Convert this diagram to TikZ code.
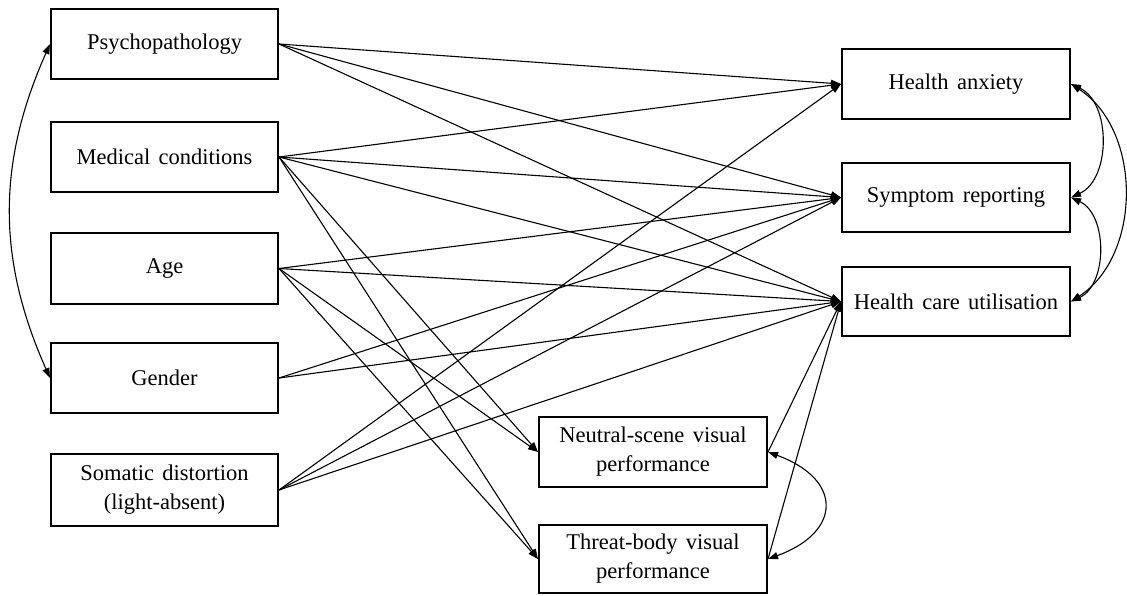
\documentclass[tikz,border=0pt]{standalone}
\usepackage{fontspec}
\setmainfont{LiberationSerif}[Extension=.ttf, UprightFont=*-Regular, BoldFont=*-Bold, WordSpace=1.5]
\usetikzlibrary{arrows.meta}
\begin{document}
\begin{tikzpicture}[x=1pt,y=-1pt,
  box/.style={draw, line width=2pt, minimum height=70pt, minimum width=227pt,
    align=center, font=\rmfamily\fontsize{22.5}{29}\selectfont, inner sep=2pt},
  path/.style={line width=1.1pt, -{Triangle[length=10pt,width=7pt]}},
  cov/.style={line width=1.1pt, {Triangle[length=10pt,width=7pt]}-{Triangle[length=10pt,width=7pt]}}]
\useasboundingbox (0,0) rectangle (1127,595);

% predictors
\node[box] (psy) at (164.5,44) {Psychopathology};
\node[box] (med) at (164.5,157) {Medical conditions};
\node[box, minimum height=71pt] (age) at (164.5,268.5) {Age};
\node[box] (gen) at (164.5,378) {Gender};
\node[box, minimum height=72pt] (som) at (164.5,490) {Somatic distortion\\(light-absent)};

% outcomes
\node[box, minimum width=228pt] (ha) at (956,84) {Health anxiety};
\node[box, minimum width=228pt, minimum height=69pt] (sr) at (956,197.5) {Symptom reporting};
\node[box, minimum width=228pt, minimum height=69pt] (hcu) at (956,301.5) {Health care utilisation};

% visual performance
\node[box, minimum width=228pt] (neu) at (653,452) {Neutral-scene visual\\performance};
\node[box, minimum width=228pt, minimum height=68pt] (thr) at (653,559) {Threat-body visual\\performance};

% regression paths
\foreach \t in {ha,sr,hcu} \draw[path] (psy.east) -- (\t.west);
\foreach \t in {ha,sr,hcu,neu,thr} \draw[path] (med.east) -- (\t.west);
\foreach \t in {sr,hcu,neu,thr} \draw[path] (age.east) -- (\t.west);
\foreach \t in {sr,hcu} \draw[path] (gen.east) -- (\t.west);
\foreach \t in {ha,sr,hcu} \draw[path] (som.east) -- (\t.west);
\draw[path] (neu.east) -- (hcu.west);
\draw[path] (thr.east) -- (hcu.west);

% covariances
\draw[cov] (psy.west) to[bend right=24] (gen.west);
\draw[cov] (ha.east) to[bend left=65] (sr.east);
\draw[cov] (sr.east) to[bend left=65] (hcu.east);
\draw[cov] (ha.east) to[bend left=57] (hcu.east);
\draw[cov] (neu.east) to[bend left=70, looseness=1.9] (thr.east);
\end{tikzpicture}
\end{document}
